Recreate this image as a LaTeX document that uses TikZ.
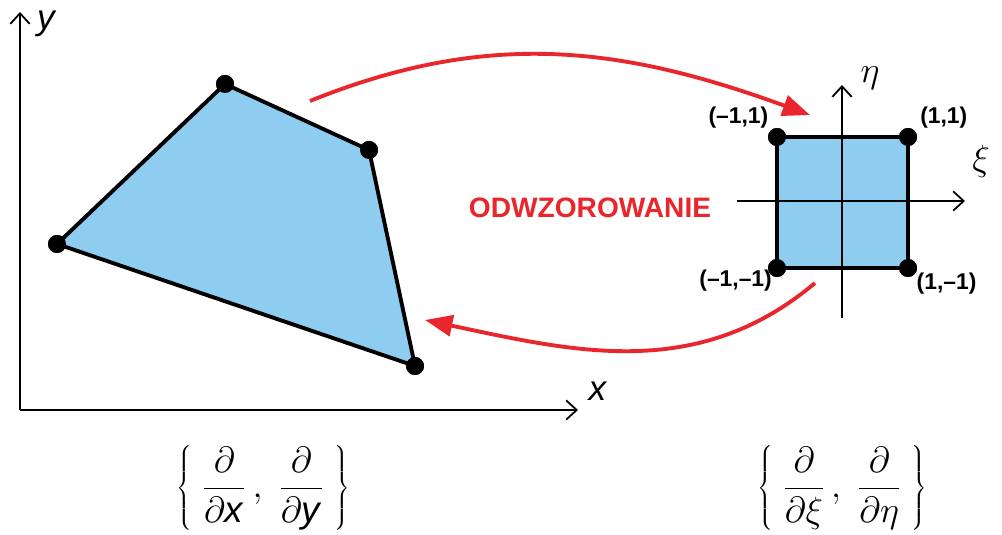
\documentclass[tikz,border=0pt]{standalone}
\usepackage{fontspec}
\setsansfont{Liberation Sans}
\usetikzlibrary{positioning, arrows.meta, calc}

\definecolor{mapred}{HTML}{E8262B}
\definecolor{elemblue}{HTML}{8ECDF0}

\begin{document}
\begin{tikzpicture}[
  font=\sffamily,
  axis/.style={line width=1pt, -{Straight Barb[length=6pt, width=11pt, line width=1pt]}},
  elem/.style={draw=black, fill=elemblue, line width=2.2pt, line join=round},
  vert/.style={circle, fill=black, inner sep=0pt, minimum size=0.36cm},
  maparrow/.style={draw=mapred, line width=2.2pt,
    -{Triangle[length=0.55cm, width=0.42cm]}},
  corner/.style={font=\sffamily\bfseries\fontsize{13}{15}\selectfont, inner sep=1pt},
  axlabel/.style={font=\fontsize{20}{24}\selectfont, inner sep=0pt},
  derivs/.style={font=\fontsize{21}{25}\selectfont, inner sep=0pt}
]
\useasboundingbox (0,0) rectangle (20.04,10.68);

% physical element in (x,y)
\coordinate (O)  at (0.4,2.48);
\coordinate (ytip) at (0.4,10.44);
\coordinate (xtip) at (11.56,2.48);
\draw[axis] (O) -- (ytip);
\draw[axis] (O) -- (xtip);
\node[axlabel, font=\sffamily\itshape\fontsize{20}{24}\selectfont] (ylab) at (0.92,10.2) {y};
\node[axlabel, font=\sffamily\itshape\fontsize{20}{24}\selectfont] (xlab) at (11.95,2.86) {x};

\node[vert] (p1) at (1.14,5.8) {};
\node[vert] (p2) at (4.5,9.0) {};
\node[vert] (p3) at (7.38,7.68) {};
\node[vert] (p4) at (8.3,3.36) {};
\draw[elem] (p1.center) -- (p2.center) -- (p3.center) -- (p4.center) -- cycle;
\foreach \p in {p1,p2,p3,p4} \node[vert] at (\p) {};

% reference element in (xi,eta)
\node[vert] (q1) at (15.54,5.32) {};
\node[vert] (q2) at (18.16,5.32) {};
\node[vert] (q3) at (18.16,7.94) {};
\node[vert] (q4) at (15.54,7.94) {};
\draw[elem] (q1.center) -- (q2.center) -- (q3.center) -- (q4.center) -- cycle;
\coordinate (etafrom) at (16.84,4.32);
\coordinate (etatip)  at (16.84,8.98);
\coordinate (xifrom)  at (14.74,6.66);
\coordinate (xitip)   at (19.3,6.66);
\draw[axis] (etafrom) -- (etatip);
\draw[axis] (xifrom) -- (xitip);
\foreach \q in {q1,q2,q3,q4} \node[vert] at (\q) {};
\node[axlabel] (etalab) at (17.4,9.12) {$\eta$};
\node[axlabel] (xilab)  at (19.62,7.46) {$\xi$};

\node[corner, above left=0pt and 0pt of q4]  {(\textendash1,1)};
\node[corner, above right=0pt and 2pt of q3] {(1,1)};
\node[corner, below left=-4pt and -2pt of q1] {(\textendash1,\textendash1)};
\node[corner, below right=-2pt and 0pt of q2] {(1,\textendash1)};

% mapping arrows
\coordinate (mapA) at (6.2,8.66);
\coordinate (mapB) at (16.2,8.38);
\coordinate (backA) at (16.3,5.02);
\coordinate (backB) at (8.5,4.28);
\draw[maparrow] (mapA) to[out=22, in=160] (mapB);
\draw[maparrow] (backA) to[out=-140, in=-12] (backB);
\node[text=mapred, font=\sffamily\bfseries\fontsize{16}{19}\selectfont] (map) at (11.8,6.52) {ODWZOROWANIE};

% derivative sets
\node[derivs] (dxy) at (5.26,0.92)
  {$\left\{\;\displaystyle\frac{\partial}{\partial \textsf{\textit{x}}}\,,\;\frac{\partial}{\partial \textsf{\textit{y}}}\;\right\}$};
\node[derivs] (dxieta) at (16.84,0.92)
  {$\left\{\;\displaystyle\frac{\partial}{\partial \xi}\,,\;\frac{\partial}{\partial \eta}\;\right\}$};

\end{tikzpicture}
\end{document}
